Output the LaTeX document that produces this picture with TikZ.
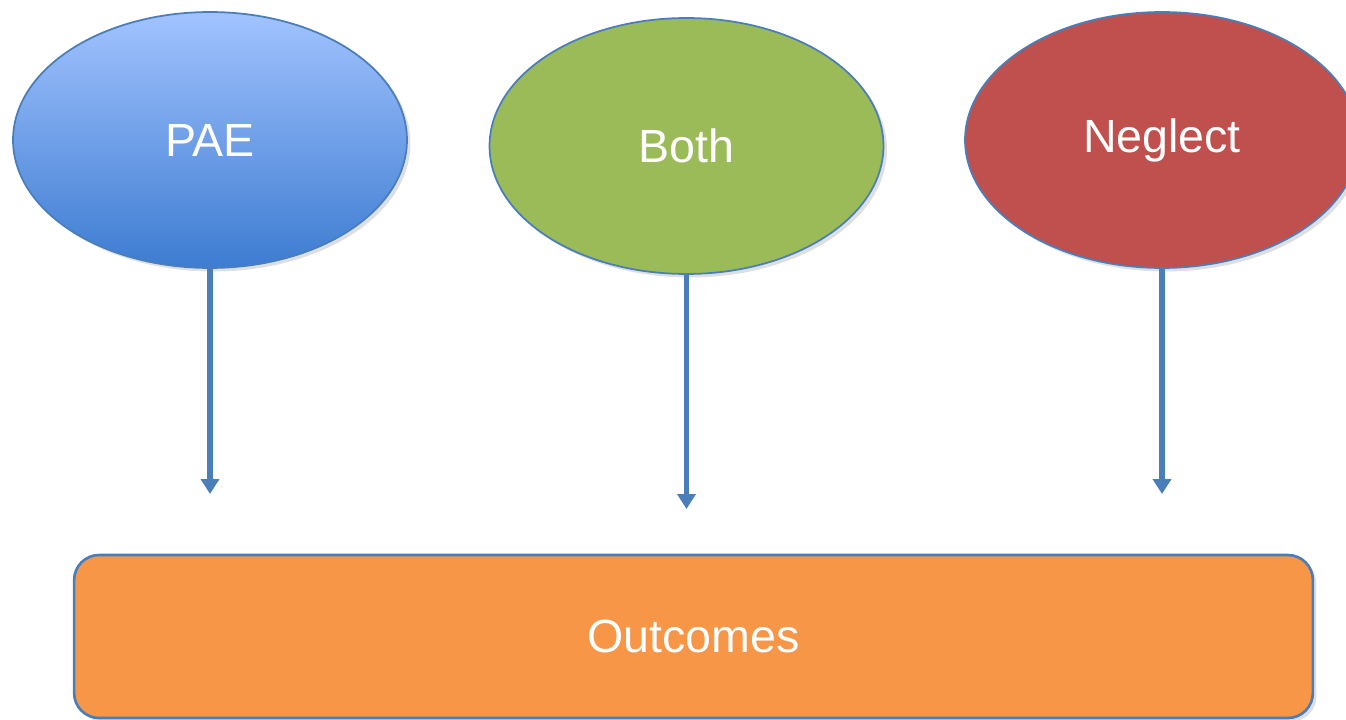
\documentclass[tikz,border=0pt]{standalone}
\usepackage{fontspec}
\setmainfont{Liberation Sans}
\usetikzlibrary{arrows.meta,positioning,shapes.geometric,shadows}

\definecolor{edgeblue}{HTML}{4A7EBB}
\definecolor{paetop}{HTML}{A2C3FF}
\definecolor{paebot}{HTML}{3D7CD1}
\definecolor{bothgreen}{HTML}{9BBB59}
\definecolor{neglred}{HTML}{C0504D}
\definecolor{outorange}{HTML}{F79646}

\begin{document}
\begin{tikzpicture}[x=0.02cm,y=-0.02cm,
    >={Triangle[width=0.36cm,length=0.3cm]},
    cause/.style={ellipse,draw=edgeblue,line width=1pt,inner sep=0pt,
        minimum width=7.88cm,minimum height=5.12cm,text=white,
        font=\fontsize{26.5}{31}\selectfont,
        drop shadow={opacity=0.25,shadow xshift=2pt,shadow yshift=-2pt}},
    outcome/.style={rectangle,rounded corners=0.5cm,draw=edgeblue,
        line width=1.5pt,fill=outorange,minimum width=24.78cm,
        minimum height=3.26cm,text=white,font=\fontsize{26.5}{31}\selectfont,
        drop shadow={opacity=0.25,shadow xshift=2pt,shadow yshift=-2pt}},
    link/.style={->,draw=edgeblue,line width=3.4pt}]

    \useasboundingbox (0,0) rectangle (1346,720);
    \clip (0,0) rectangle (1346,720);

    \node[cause,top color=paetop,bottom color=paebot] (pae) at (210,140)   {PAE};
    \node[cause,fill=bothgreen]                       (both) at (686.5,146) {Both};
    \node[cause,fill=neglred]                         (negl) at (1162,140)  {Neglect};

    \node[outcome] (out) at (693.5,636.5) {Outcomes};

    \coordinate (pae end)  at (210,494);
    \coordinate (both end) at (686.5,509);
    \coordinate (negl end) at (1162,494);

    \draw[link] (pae.south)  -- (pae end);
    \draw[link] (both.south) -- (both end);
    \draw[link] (negl.south) -- (negl end);
\end{tikzpicture}
\end{document}
